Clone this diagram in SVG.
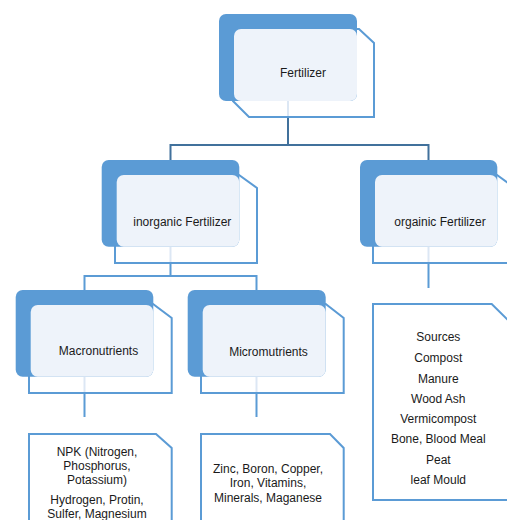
<svg xmlns="http://www.w3.org/2000/svg" width="507" height="520" viewBox="0 0 507 520">
<style>
.outline{fill:#ffffff;stroke:#5B9BD5;stroke-width:2}
.dark{fill:#5B9BD5}
.light{fill:#EEF3FA}
.t{font-family:"Liberation Sans",Arial,sans-serif;font-size:12px;fill:#1a1a1a;text-anchor:middle}
.c1{fill:none;stroke:#41719C;stroke-width:2}
.c2{fill:none;stroke:#5B9BD5;stroke-width:2}
.cf{fill:none;stroke:#DCE7F4;stroke-width:2}
</style>
<rect width="507" height="520" fill="#ffffff"/>
<g id="connectors">
<path class="c1" d="M288 117V145M170.5 160V145H428.5V160"/>
<path class="c2" d="M170.5 263V276M84.5 290V276H256.5V290"/>
<path class="c2" d="M84.5 393V417M256.5 393V417M428.5 263V288"/>
</g>
<g id="fertilizer">
<polygon class="outline" points="234,29 359,29 374,43 374,117 249,117 233,101"/>
<path class="cf" d="M288 101V116"/>
<rect class="dark" x="219" y="14" width="138" height="87" rx="7"/>
<rect class="light" x="234" y="29" width="123" height="72" rx="7"/>
<text class="t" x="303" y="77">Fertilizer</text>
</g>
<g id="inorganic">
<polygon class="outline" points="115,175 239,175 257,188 257,263 115,263"/>
<path class="cf" d="M170.5 247V262"/>
<rect class="dark" x="101.7" y="160" width="137.6" height="86.7" rx="7"/>
<rect class="light" x="116.7" y="175" width="122.6" height="71.7" rx="7"/>
<text class="t" x="182.3" y="226">inorganic Fertilizer</text>
</g>
<g id="organic">
<polygon class="outline" points="373,175 497,175 515,188 515,263 373,263"/>
<path class="cf" d="M428.5 247V262"/>
<rect class="dark" x="360" y="160" width="137.3" height="86.7" rx="7"/>
<rect class="light" x="375" y="175" width="122.3" height="71.7" rx="7"/>
<text class="t" x="440" y="226">orgainic Fertilizer</text>
</g>
<g id="macronutrients">
<polygon class="outline" points="29,304 153,304 171.7,318 171.7,393 29,393"/>
<path class="cf" d="M84.5 377V392"/>
<rect class="dark" x="15.7" y="290" width="137.6" height="86.7" rx="7"/>
<rect class="light" x="30.7" y="305" width="122.6" height="71.7" rx="7"/>
<text class="t" x="98.5" y="355">Macronutrients</text>
</g>
<g id="micromutrients">
<polygon class="outline" points="201,304 325.7,304 343.7,318 343.7,393 201,393"/>
<path class="cf" d="M256.5 377V392"/>
<rect class="dark" x="187.7" y="290" width="138" height="86.7" rx="7"/>
<rect class="light" x="202.7" y="305" width="123" height="71.7" rx="7"/>
<text class="t" x="268.5" y="356">Micromutrients</text>
</g>
<g id="macro-list">
<polygon class="outline" points="29,434 156,434 171.7,448 171.7,530 29,530"/>
<text class="t" x="97"><tspan x="97" y="456">NPK (Nitrogen,</tspan><tspan x="97" y="469.5">Phosphorus,</tspan><tspan x="97" y="484">Potassium)</tspan><tspan x="97" y="504">Hydrogen, Protin,</tspan><tspan x="97" y="518">Sulfer, Magnesium</tspan></text>
</g>
<g id="micro-list">
<polygon class="outline" points="201,434 330,434 343.7,448 343.7,530 201,530"/>
<text class="t" x="268"><tspan x="268" y="472.5">Zinc, Boron, Copper,</tspan><tspan x="268" y="487">Iron, Vitamins,</tspan><tspan x="268" y="501.5">Minerals, Maganese</tspan></text>
</g>
<g id="organic-list">
<polygon class="outline" points="373,304 491.7,304 515,327 515,500 373,500"/>
<text class="t" x="438.3"><tspan x="438.3" y="341">Sources</tspan><tspan x="438.3" y="362">Compost</tspan><tspan x="438.3" y="382.5">Manure</tspan><tspan x="438.3" y="402.5">Wood Ash</tspan><tspan x="438.3" y="422.5">Vermicompost</tspan><tspan x="438.3" y="442.5">Bone, Blood Meal</tspan><tspan x="438.3" y="463.5">Peat</tspan><tspan x="438.3" y="484">leaf Mould</tspan></text>
</g>
</svg>
